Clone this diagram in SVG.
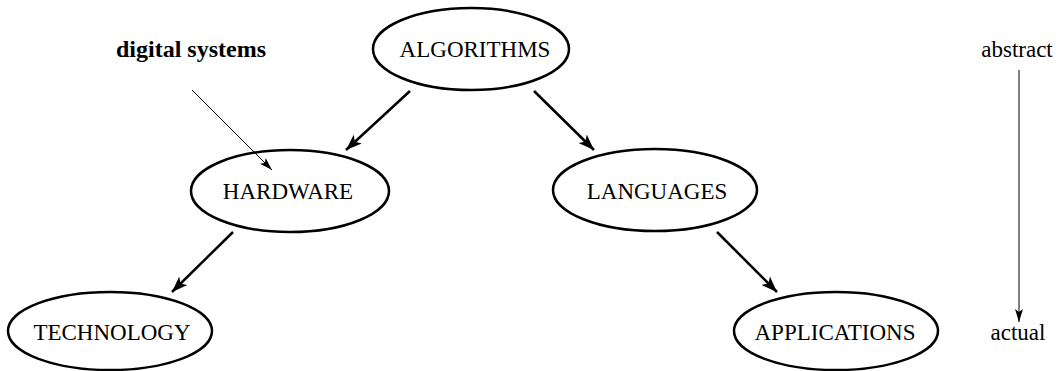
<svg xmlns="http://www.w3.org/2000/svg" width="1061" height="371" viewBox="0 0 1061 371">
  <style>
    .node ellipse { fill: none; stroke: #000000; stroke-width: 2.5; }
    .node text, .label { font-family: "Liberation Serif", "Times New Roman", serif; font-size: 23px; fill: #000000; text-anchor: middle; }
    .bold { font-weight: bold; font-size: 24px; }
    .edge { stroke: #000000; stroke-width: 2.5; fill: none; marker-end: url(#head); }
    .thin { stroke: #000000; stroke-width: 1; fill: none; marker-end: url(#headThin); }
  </style>
  <defs>
    <marker id="head" viewBox="0 0 16 12" refX="16" refY="6" markerWidth="16" markerHeight="12" markerUnits="userSpaceOnUse" orient="auto">
      <path d="M0,0 L16,6 L0,12 L4,6 Z" fill="#000000"/>
    </marker>
    <marker id="headThin" viewBox="0 0 13 8" refX="13" refY="4" markerWidth="13" markerHeight="8" markerUnits="userSpaceOnUse" orient="auto">
      <path d="M0,0 L13,4 L0,8 L3,4 Z" fill="#000000"/>
    </marker>
  </defs>

  <rect width="1061" height="371" fill="#ffffff"/>

  <g id="algorithms" class="node">
    <ellipse cx="471" cy="49" rx="98" ry="41"/>
    <text x="475" y="57">ALGORITHMS</text>
  </g>
  <g id="hardware" class="node">
    <ellipse cx="290" cy="191" rx="99" ry="41"/>
    <text x="288" y="199">HARDWARE</text>
  </g>
  <g id="languages" class="node">
    <ellipse cx="655" cy="190" rx="102" ry="41"/>
    <text x="657" y="199">LANGUAGES</text>
  </g>
  <g id="technology" class="node">
    <ellipse cx="110" cy="331" rx="102" ry="39"/>
    <text x="112" y="340">TECHNOLOGY</text>
  </g>
  <g id="applications" class="node">
    <ellipse cx="836" cy="331" rx="102" ry="39"/>
    <text x="835" y="340">APPLICATIONS</text>
  </g>

  <!-- connectors, drawn over the node outlines -->
  <g id="connectors">
    <line class="edge" x1="410" y1="91" x2="346" y2="150"/>
    <line class="edge" x1="534" y1="91" x2="594" y2="150"/>
    <line class="edge" x1="233" y1="232" x2="172" y2="292"/>
    <line class="edge" x1="717" y1="232" x2="777" y2="292"/>
    <line class="thin" x1="192" y1="90" x2="272" y2="170"/>
    <line class="thin" x1="1019" y1="70" x2="1019" y2="322"/>
  </g>

  <g id="digital-systems">
    <text class="label bold" x="191" y="57">digital systems</text>
  </g>
  <g id="abstract">
    <text class="label" x="1017" y="57">abstract</text>
  </g>
  <g id="actual">
    <text class="label" x="1018" y="340">actual</text>
  </g>
</svg>
